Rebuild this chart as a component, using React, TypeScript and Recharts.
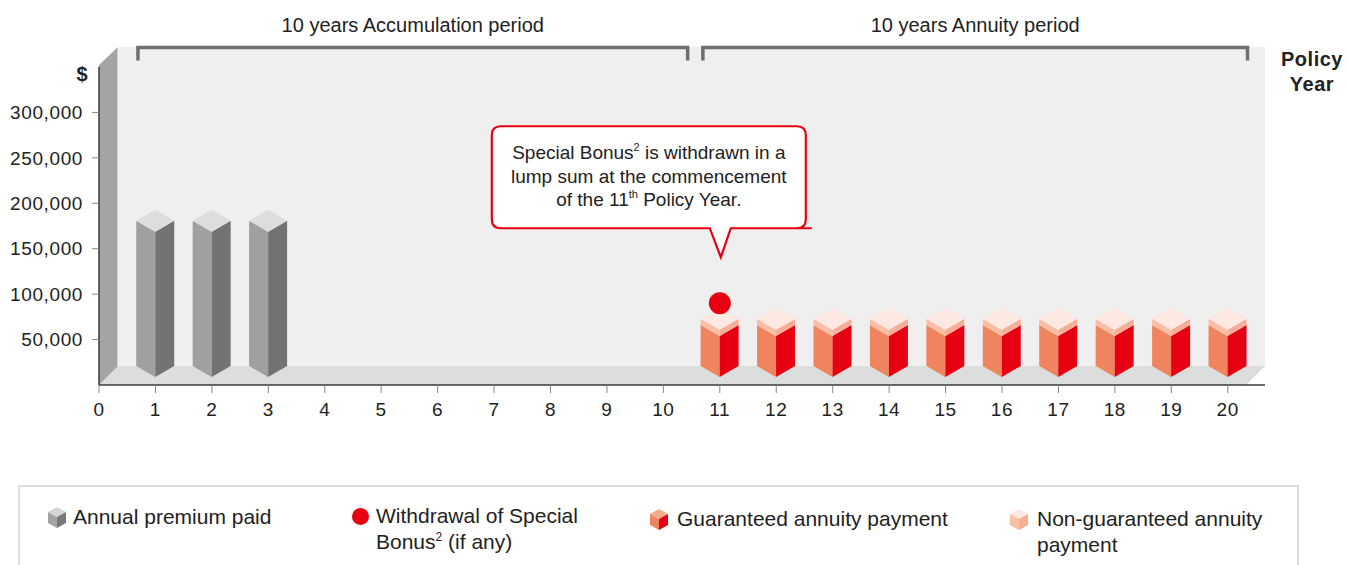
import React from 'react'
import {
  ComposedChart,
  Bar,
  Scatter,
  XAxis,
  YAxis,
  ReferenceArea,
  ReferenceDot,
  Legend,
} from 'recharts'

const FONT = '"Liberation Sans", Arial, Helvetica, sans-serif'
const RED = '#e60012'
const INK = '#222'

// policy years and the amounts per year
const policyYears = [1, 2, 3, 4, 5, 6, 7, 8, 9, 10, 11, 12, 13, 14, 15, 16, 17, 18, 19, 20]
const annualPremium = [160000, 160000, 160000, 0, 0, 0, 0, 0, 0, 0, 0, 0, 0, 0, 0, 0, 0, 0, 0, 0]
const guaranteedAnnuity = [0, 0, 0, 0, 0, 0, 0, 0, 0, 0, 45000, 45000, 45000, 45000, 45000, 45000, 45000, 45000, 45000, 45000]
const nonGuaranteedAnnuity = [0, 0, 0, 0, 0, 0, 0, 0, 0, 0, 7000, 7000, 7000, 7000, 7000, 7000, 7000, 7000, 7000, 7000]

const bonusYears = [11]
const bonusWithdrawal = [90000]

const xTicks = [0, 1, 2, 3, 4, 5, 6, 7, 8, 9, 10, 11, 12, 13, 14, 15, 16, 17, 18, 19, 20]
const yTicks = [50000, 100000, 150000, 200000, 250000, 300000]

const periods = [
  { label: '10 years Accumulation period', from: 0.69, to: 10.43 },
  { label: '10 years Annuity period', from: 10.7, to: 20.35 },
]

const data = policyYears.map((year, i) => ({
  year,
  premium: annualPremium[i],
  guaranteed: guaranteedAnnuity[i],
  nonGuaranteed: nonGuaranteedAnnuity[i],
}))
const bonusData = bonusYears.map((year, i) => ({ year, bonus: bonusWithdrawal[i] }))

const DROP = 8 // front edge sits this far above the base
const SLOPE = 11 // side edges rise this much from the front edge
const DEPTH = 19

function Prism({ x, width, top, base, left, right, cap }: any) {
  const cx = x + width / 2
  const r = x + width
  return (
    <g>
      <polygon
        points={`${x},${top - DROP - SLOPE} ${cx},${top - DROP} ${cx},${base - DROP} ${x},${base - DROP - SLOPE}`}
        fill={left}
      />
      <polygon
        points={`${cx},${top - DROP} ${r},${top - DROP - SLOPE} ${r},${base - DROP - SLOPE} ${cx},${base - DROP}`}
        fill={right}
      />
      {cap && (
        <polygon
          points={`${cx},${top - DROP - 2 * SLOPE} ${r},${top - DROP - SLOPE} ${cx},${top - DROP} ${x},${top - DROP - SLOPE}`}
          fill={cap}
        />
      )}
    </g>
  )
}

const premiumShape = (p: any) =>
  p.height > 0 ? (
    <Prism x={p.x} width={p.width} top={p.y} base={p.y + p.height} left="#a0a0a0" right="#737373" cap="#dcdddd" />
  ) : (
    <g />
  )

const guaranteedShape = (p: any) =>
  p.height > 0 ? (
    <Prism x={p.x} width={p.width} top={p.y} base={p.y + p.height} left="#f0845e" right={RED} />
  ) : (
    <g />
  )

const nonGuaranteedShape = (p: any) =>
  p.height > 0 ? (
    <Prism x={p.x} width={p.width} top={p.y} base={p.y + p.height} left="#f9bea5" right="#f7ae98" cap="#fde9e1" />
  ) : (
    <g />
  )

function Backdrop({ x, y, width, height }: any) {
  const b = y + height
  return (
    <g>
      <rect x={x + DEPTH} y={y - 20} width={width - DEPTH} height={height + 20 - DEPTH} fill="#efefef" />
      <polygon
        points={`${x},${b} ${x + DEPTH},${b - DEPTH} ${x + width},${b - DEPTH} ${x + width - DEPTH},${b}`}
        fill="#dcdddd"
      />
      <polygon points={`${x},${y - 2} ${x + DEPTH},${y - 20} ${x + DEPTH},${b - DEPTH} ${x},${b}`} fill="#a4a4a4" />
      <line x1={x + DEPTH} y1={y - 20} x2={x + DEPTH} y2={b - DEPTH} stroke="#fafafa" strokeWidth={1} />
      <text x={x - 17} y={y + 14} textAnchor="middle" fontSize={20} fontWeight="bold" fill={INK} fontFamily={FONT}>
        $
      </text>
      <text x={x + width + 47} y={y - 1} textAnchor="middle" fontSize={20} fontWeight="bold" fill={INK} fontFamily={FONT} letterSpacing={0.5}>
        Policy
      </text>
      <text x={x + width + 47} y={y + 24} textAnchor="middle" fontSize={20} fontWeight="bold" fill={INK} fontFamily={FONT} letterSpacing={0.5}>
        Year
      </text>
    </g>
  )
}

const bracketShape = (label: string) => (p: any) => {
  const top = p.y - 19.5
  const x1 = p.x
  const x2 = p.x + p.width
  return (
    <g>
      <path d={`M${x1},${top + 13} V${top} H${x2} V${top + 13}`} stroke="#6f6f6f" strokeWidth={3.5} fill="none" />
      <text x={(x1 + x2) / 2} y={top - 16} textAnchor="middle" fontSize={20} fill={INK} fontFamily={FONT}>
        {label}
      </text>
    </g>
  )
}

function Callout({ cx, cy }: any) {
  const l = cx - 228
  const r = cx + 86
  const t = cy - 177
  const b = cy - 75
  const k = 9
  const tipX = cx + 1
  const tipY = cy - 46
  const d = `M${l + k},${t} H${r - k} Q${r},${t} ${r},${t + k} V${b - k} Q${r},${b} ${r - k},${b}
    H${cx + 11} L${tipX},${tipY} L${cx - 10},${b} H${l + k} Q${l},${b} ${l},${b - k} V${t + k} Q${l},${t} ${l + k},${t} Z`
  const mid = (l + r) / 2
  return (
    <g fontFamily={FONT} fontSize={19} fill={INK}>
      <path d={d} fill="#fff" stroke={RED} strokeWidth={2.2} />
      <line x1={r - k} y1={b} x2={r + 6} y2={b} stroke={RED} strokeWidth={2} />
      <text x={mid} y={t + 33} textAnchor="middle">
        Special Bonus<tspan fontSize={11} dy={-8}>2</tspan>
        <tspan dy={8}> is withdrawn in a</tspan>
      </text>
      <text x={mid} y={t + 57} textAnchor="middle">
        lump sum at the commencement
      </text>
      <text x={mid} y={t + 80} textAnchor="middle">
        of the 11<tspan fontSize={11} dy={-8}>th</tspan>
        <tspan dy={8}> Policy Year.</tspan>
      </text>
    </g>
  )
}

function Cube({ top, left, right }: { top: string; left: string; right: string }) {
  return (
    <svg width={18} height={21} style={{ display: 'block' }}>
      <polygon points="9,0 18,5 9,10 0,5" fill={top} />
      <polygon points="0,5 9,10 9,21 0,16" fill={left} />
      <polygon points="9,10 18,5 18,16 9,21" fill={right} />
    </svg>
  )
}

const legendItems = [
  { icon: <Cube top="#d6d6d6" left="#a3a3a3" right="#787878" />, iconX: 30, iconY: 22, textX: 55, textY: 19, lines: ['Annual premium paid'] },
  { icon: 'dot', iconX: 334, iconY: 22.5, textX: 358, textY: 18, lines: ['Withdrawal of Special', 'bonus'] },
  { icon: <Cube top="#f5ab8c" left="#ef8460" right={RED} />, iconX: 632, iconY: 24, textX: 659, textY: 20.7, lines: ['Guaranteed annuity payment'] },
  { icon: <Cube top="#fde9e1" left="#f9bfa3" right="#f5ae8e" />, iconX: 992, iconY: 24, textX: 1019, textY: 20.7, lines: ['Non-guaranteed annuity', 'payment'] },
]

function LegendBox() {
  return (
    <div style={{ position: 'relative', width: 1281, height: 80, fontFamily: FONT, color: INK }}>
      <div
        style={{
          position: 'absolute',
          inset: 0,
          border: '2px solid #dedede',
          borderBottom: 'none',
        }}
      />
      {legendItems.map((it, i) => (
        <React.Fragment key={i}>
          <div style={{ position: 'absolute', left: it.iconX, top: it.iconY }}>
            {it.icon === 'dot' ? (
              <div style={{ width: 17, height: 17, borderRadius: '50%', background: RED }} />
            ) : (
              it.icon
            )}
          </div>
          <div style={{ position: 'absolute', left: it.textX, top: it.textY, fontSize: 21, lineHeight: '26px', whiteSpace: 'nowrap' }}>
            {it.lines.map((line, j) =>
              line === 'bonus' ? (
                <div key={j}>
                  Bonus<sup style={{ fontSize: 12, verticalAlign: 'top', lineHeight: '16px' }}>2</sup> (if any)
                </div>
              ) : (
                <div key={j}>{line}</div>
              ),
            )}
          </div>
        </React.Fragment>
      ))}
    </div>
  )
}

const tickStyle = { fontSize: 19, fill: INK, fontFamily: FONT, letterSpacing: 0.6 }

export default function App() {
  return (
    <div style={{ position: 'absolute', left: 0, top: 0, width: 1348, height: 565, background: '#fff', fontFamily: FONT }}>
      <ComposedChart
        width={1348}
        height={565}
        data={data}
        margin={{ top: 67, right: 83, bottom: 0, left: 0 }}
      >
        <XAxis
          dataKey="year"
          type="number"
          domain={[0, 20.66]}
          ticks={xTicks}
          interval={0}
          height={180}
          tick={tickStyle}
          tickSize={8}
          tickMargin={10}
          axisLine={{ stroke: '#3a3a3a', strokeWidth: 1.5 }}
          tickLine={{ stroke: '#888' }}
          allowDataOverflow
        />
        <YAxis
          type="number"
          domain={[0, 350000]}
          ticks={yTicks}
          interval={0}
          width={99}
          tick={tickStyle}
          tickSize={7}
          tickMargin={9}
          tickFormatter={(v: number) => v.toLocaleString('en-US')}
          axisLine={{ stroke: '#3a3a3a', strokeWidth: 1.5 }}
          tickLine={{ stroke: '#888' }}
          allowDataOverflow
        />
        <ReferenceArea x1={0} x2={20.66} y1={0} y2={350000} ifOverflow="visible" shape={Backdrop} />
        {periods.map((p) => (
          <ReferenceArea
            key={p.label}
            x1={p.from}
            x2={p.to}
            y1={0}
            y2={350000}
            ifOverflow="visible"
            shape={bracketShape(p.label)}
          />
        ))}
        <Bar dataKey="premium" stackId="a" barSize={38} shape={premiumShape} isAnimationActive={false} />
        <Bar dataKey="guaranteed" stackId="a" barSize={38} shape={guaranteedShape} isAnimationActive={false} />
        <Bar dataKey="nonGuaranteed" stackId="a" barSize={38} shape={nonGuaranteedShape} isAnimationActive={false} />
        <Scatter
          data={bonusData}
          dataKey="bonus"
          fill={RED}
          shape={(p: any) => <circle cx={p.cx} cy={p.cy} r={11} fill={RED} />}
          isAnimationActive={false}
        />
        <ReferenceDot x={bonusYears[0]} y={bonusWithdrawal[0]} ifOverflow="visible" shape={Callout} />
        <Legend
          layout="horizontal"
          verticalAlign="middle"
          align="center"
          wrapperStyle={{ left: 18, top: 485, width: 1281 }}
          content={() => <LegendBox />}
        />
      </ComposedChart>
    </div>
  )
}
